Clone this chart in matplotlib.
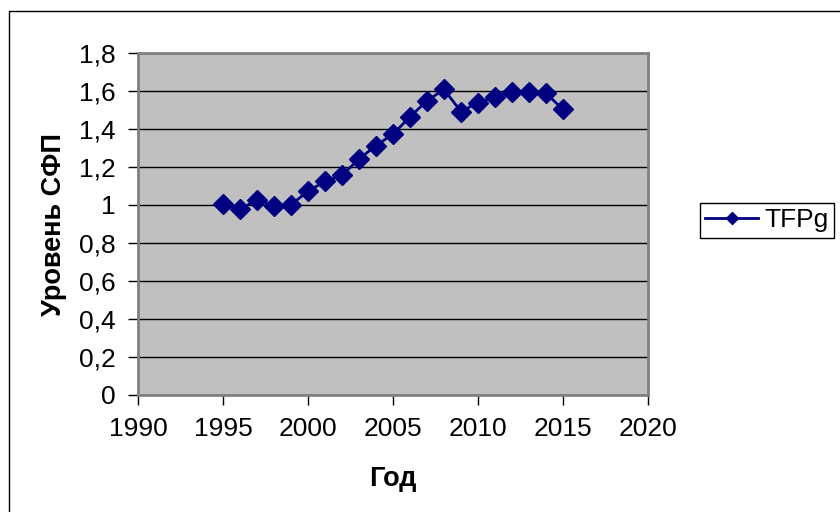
import matplotlib
matplotlib.use("Agg")
import matplotlib.pyplot as plt
from matplotlib.patches import Rectangle
from matplotlib.ticker import FuncFormatter, MultipleLocator

plt.rcParams['font.family'] = ['Liberation Sans', 'DejaVu Sans']

years = [1995, 1996, 1997, 1998, 1999, 2000, 2001, 2002, 2003, 2004, 2005,
         2006, 2007, 2008, 2009, 2010, 2011, 2012, 2013, 2014, 2015]
tfpg = [1.003, 0.978, 1.026, 0.994, 1.001, 1.073, 1.124, 1.156, 1.242, 1.313, 1.373,
        1.464, 1.549, 1.608, 1.492, 1.539, 1.567, 1.596, 1.597, 1.588, 1.503]
series_name = "TFPg"
x_label = "Год"
y_label = "Уровень СФП"

fig = plt.figure(figsize=(8.4, 5.12), dpi=100)
fig.patches.append(Rectangle((9/840, -0.1), 1.2, (512-11)/512 + 0.1, transform=fig.transFigure,
                             fill=False, edgecolor='black', linewidth=1.0))

ax = fig.add_axes([138/840, (512-395)/512, (648-138)/840, (395-53)/512])
ax.set_facecolor('#C0C0C0')
ax.plot(years, tfpg, color='#000080', linewidth=2, marker='D', markersize=10,
        markerfacecolor='#000080', markeredgecolor='#000080', label=series_name, zorder=3)

ax.set_xlim(1990, 2020)
ax.set_ylim(0, 1.8)
ax.xaxis.set_major_locator(MultipleLocator(5))
ax.yaxis.set_major_locator(MultipleLocator(0.2))
ax.yaxis.set_major_formatter(FuncFormatter(lambda v, p: ('%g' % round(v, 1)).replace('.', ',')))
ax.grid(axis='y', color='black', linewidth=1)
ax.set_axisbelow(True)
for s in ax.spines.values():
    s.set_color('#808080')
    s.set_linewidth(2)
ax.tick_params(axis='both', direction='out', length=7, width=1, color='black',
               labelsize=19, pad=9)
ax.set_xlabel(x_label, fontsize=19.5, fontweight='bold', labelpad=18)
ax.set_ylabel(y_label, fontsize=19.5, fontweight='bold', labelpad=9)

leg = fig.legend(loc='upper left', bbox_to_anchor=(700/840, (512-203)/512), fontsize=19,
                 frameon=True, fancybox=False, edgecolor='black', framealpha=1,
                 handlelength=2.0, borderpad=0.2, borderaxespad=0, handletextpad=0.25,
                 markerscale=0.65)
leg.get_frame().set_linewidth(1)

fig.savefig("out.png", dpi=100)
